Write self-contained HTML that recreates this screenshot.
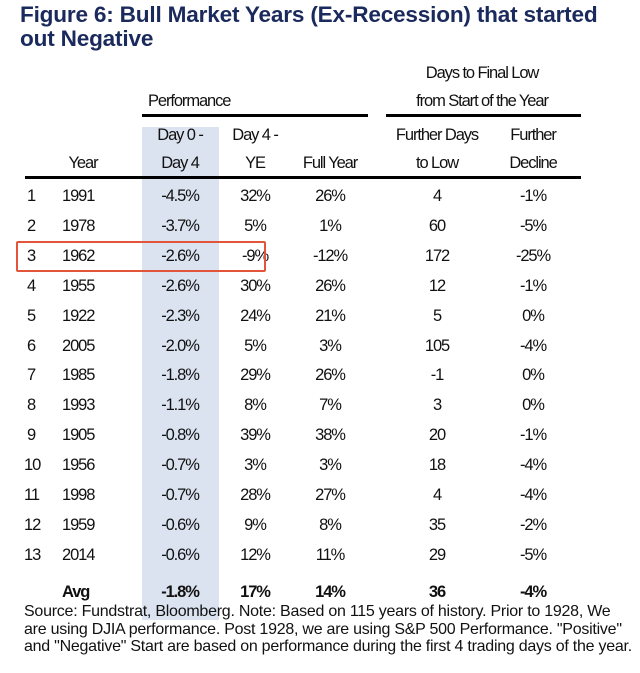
<!DOCTYPE html>
<html><head><meta charset="utf-8"><style>
body{margin:0;background:#fff;}
#root{position:relative;width:640px;height:673px;overflow:hidden;background:#fff;font-family:"Liberation Sans",Arial,sans-serif;color:#111;}
.t{position:absolute;white-space:nowrap;font-size:16.5px;letter-spacing:-1.1px;line-height:18px;}
.c{transform:translateX(-50%);}
.b{font-weight:bold;}
.title{position:absolute;left:20px;font-size:22.6px;font-weight:bold;color:#1b2a5c;letter-spacing:-0.2px;line-height:24px;}
.rule{position:absolute;background:#000;}
.foot{position:absolute;left:24px;font-size:16px;letter-spacing:-0.25px;line-height:17.5px;color:#111;}
</style></head><body>
<div id="root">
<div class="title" style="top:3px">Figure 6: Bull Market Years (Ex-Recession) that started<br>out Negative</div>
<div style="position:absolute;left:142px;top:127px;width:77px;height:493px;background:#dbe2f0"></div>
<div class="t c" style="left:482px;top:64px">Days to Final Low</div>
<div class="t" style="left:148px;top:92px">Performance</div>
<div class="t c" style="left:482px;top:92px">from Start of the Year</div>
<div class="rule" style="left:142px;top:114px;width:226px;height:3px"></div>
<div class="rule" style="left:386px;top:114px;width:195px;height:3px"></div>
<div class="t c" style="left:180px;top:126px">Day 0 -</div>
<div class="t c" style="left:255px;top:126px">Day 4 -</div>
<div class="t c" style="left:437px;top:126px">Further Days</div>
<div class="t c" style="left:533px;top:126px">Further</div>
<div class="t c" style="left:83px;top:154px">Year</div>
<div class="t c" style="left:180px;top:154px">Day 4</div>
<div class="t c" style="left:255px;top:154px">YE</div>
<div class="t c" style="left:330px;top:154px">Full Year</div>
<div class="t c" style="left:437px;top:154px">to Low</div>
<div class="t c" style="left:533px;top:154px">Decline</div>
<div class="rule" style="left:25px;top:176px;width:556px;height:3px"></div>
<div id="rows"></div>
<div style="position:absolute;left:16px;top:241px;width:246px;height:27px;border:2.5px solid #e2553a;border-radius:2px"></div>
<div class="foot" style="top:603px">Source: Fundstrat, Bloomberg. Note: Based on 115 years of history. Prior to 1928, We<br>are using DJIA performance. Post 1928, we are using S&amp;P 500 Performance. "Positive"<br>and "Negative" Start are based on performance during the first 4 trading days of the year.</div>
</div>
<script>
const years=["1991","1978","1962","1955","1922","2005","1985","1993","1905","1956","1998","1959","2014"];
const day0=["-4.5%","-3.7%","-2.6%","-2.6%","-2.3%","-2.0%","-1.8%","-1.1%","-0.8%","-0.7%","-0.7%","-0.6%","-0.6%"];
const ye=["32%","5%","-9%","30%","24%","5%","29%","8%","39%","3%","28%","9%","12%"];
const full=["26%","1%","-12%","26%","21%","3%","26%","7%","38%","3%","27%","8%","11%"];
const days=["4","60","172","12","5","105","-1","3","20","18","4","35","29"];
const decl=["-1%","-5%","-25%","-1%","0%","-4%","0%","0%","-1%","-4%","-4%","-2%","-5%"];
const avg=["Avg","-1.8%","17%","14%","36","-4%"];
const root=document.getElementById('rows');
function add(txt,x,y,center,bold,name){
  const d=document.createElement('div');
  d.className='t'+(center?' c':'')+(bold?' b':'');
  d.style.left=x+'px';d.style.top=y+'px';d.textContent=txt;
  
  
  root.appendChild(d);
}
const xs=[180,255,330,437,533];
years.forEach((y,i)=>{
  const top=187+i*29.9;
  add(String(i+1),i>=9?24:27,top,false,false,'row-index');
  add(y,62,top,false,false,'row-year');
  [day0[i],ye[i],full[i],days[i],decl[i]].forEach((v,j)=>add(v,xs[j],top,true,false,'row-cell'));
});
add(avg[0],62,583,false,true,'avg-label');
avg.slice(1).forEach((v,j)=>add(v,xs[j],583,true,true,'avg-cell'));
</script>
</body></html>
